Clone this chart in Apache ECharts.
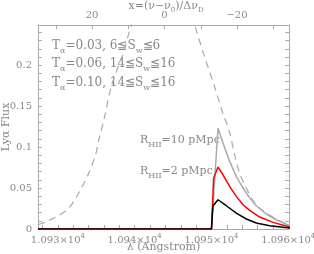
<!DOCTYPE html>
<html><head><meta charset="utf-8">
<script src="https://cdn.jsdelivr.net/npm/echarts@6/dist/echarts.min.js"></script>
<style>html,body{margin:0;padding:0;background:#fff}#c{width:314px;height:254px}</style>
</head><body><div id="c"></div>
<script>
// Dashed (intrinsic) profile, wavelength in Angstrom, flux
const dashedLambda = [10927.40, 10928.38, 10929.70, 10931.21, 10932.07, 10932.94, 10934.02, 10934.90, 10935.33, 10936.07, 10936.94, 10938.42, 10939.55, 10941.61, 10943.70, 10945.78, 10947.80, 10949.11, 10950.40, 10951.49, 10952.28, 10953.02, 10953.67, 10954.65, 10955.50, 10956.53, 10957.97, 10959.14, 10960.10];
const dashedFlux   = [0.0052, 0.0085, 0.0146, 0.0235, 0.0337, 0.0479, 0.0683, 0.0906, 0.1089, 0.137, 0.174, 0.2126, 0.249, 0.31, 0.33, 0.31, 0.249, 0.210, 0.174, 0.141, 0.121, 0.0906, 0.0683, 0.0479, 0.0337, 0.0235, 0.0146, 0.0085, 0.0055];

// R_HII = 10 pMpc (gray)
const grayLambda = [10927.4, 10950.0, 10950.85, 10951.5, 10952.37, 10953.24, 10954.11, 10954.98, 10955.84, 10957.15, 10958.45, 10960.2];
const grayFlux   = [0, 0, 0.123, 0.105, 0.0825, 0.064, 0.050, 0.038, 0.0284, 0.0183, 0.0113, 0.004];
// R_HII = 2 pMpc (red)
const redLambda = [10927.4, 10950.0, 10950.28, 10950.85, 10951.5, 10952.37, 10953.24, 10954.11, 10954.98, 10956.28, 10958.02, 10960.2];
const redFlux   = [0, 0, 0.062, 0.0756, 0.0662, 0.052, 0.0398, 0.0296, 0.0227, 0.0146, 0.0081, 0.0024];
// black
const blackLambda = [10927.4, 10950.0, 10950.19, 10950.85, 10951.93, 10953.24, 10954.54, 10955.84, 10957.58, 10960.2];
const blackFlux   = [0, 0, 0.028, 0.0357, 0.0284, 0.0195, 0.0122, 0.0073, 0.004, 0.0012];

const bottomTickLabels = [10930, 10940, 10950, 10960];
const bottomTicks = [10928,10930,10932,10934,10936,10938,10940,10942,10944,10946,10948,10950,10952,10954,10956,10958,10960];
const topTickLabels = [20, 0, -20];
const topTicks = [30, 20, 10, 0, -10, -20, -30];
const yTickLabels = [0, 0.05, 0.1, 0.15, 0.2];
const yTicks = [0,0.01,0.02,0.03,0.04,0.05,0.06,0.07,0.08,0.09,0.1,0.11,0.12,0.13,0.14,0.15,0.16,0.17,0.18,0.19,0.2,0.21,0.22,0.23,0.24];

const FONT = 'DejaVu Serif';
const TXT = '#888888';
const AX = '#aaaaaa';

const zip = (a, b) => a.map((v, i) => [v, b[i]]);

const chart = echarts.init(document.getElementById('c'), null, {renderer: 'canvas'});

const richT = {
  m: {fontFamily: FONT, fontSize: 12, color: TXT},
  s: {fontFamily: FONT, fontSize: 8, color: TXT, padding: [9, 0, 0, 0]}
};
const richR = {
  m: {fontFamily: FONT, fontSize: 11, color: TXT},
  s: {fontFamily: FONT, fontSize: 8, color: TXT, padding: [9, 0, 0, 0]}
};

const annText = (x, y, text, rich) => ({
  type: 'text', x: x, y: y,
  style: {text: text, rich: rich, fill: TXT, verticalAlign: 'middle', align: 'left', font: '11px ' + FONT}
});

chart.setOption({
  animation: false,
  grid: {left: 38, right: 25, top: 25, bottom: 25, containLabel: false, outerBoundsMode: 'none'},
  xAxis: [{
    type: 'value', position: 'bottom', min: 10927.4, max: 10960.1,
    axisLine: {show: true, onZero: false, lineStyle: {color: AX}},
    axisTick: {show: true, inside: true, length: 4, customValues: bottomTicks, lineStyle: {color: AX}},
    axisLabel: {customValues: bottomTickLabels, margin: 4, color: TXT,
      formatter: v => '{m|' + (v / 1e4).toFixed(3) + '×10}{p|4}',
      rich: {m: {fontFamily: FONT, fontSize: 10, color: TXT}, p: {fontFamily: FONT, fontSize: 7, color: TXT, padding: [0, 0, 8, 0]}}},
    splitLine: {show: false},
    name: 'λ (Angstrom)', nameLocation: 'middle', nameGap: 13, nameMoveOverlap: false,
    nameTextStyle: {fontFamily: FONT, fontSize: 11, color: TXT}
  }, {
    type: 'value', position: 'top', min: -34.34, max: 34.9, inverse: true,
    axisLine: {show: true, onZero: false, lineStyle: {color: AX}},
    axisTick: {show: true, inside: true, length: 4, customValues: topTicks, lineStyle: {color: AX}},
    axisLabel: {customValues: topTickLabels, margin: 5, color: TXT, fontFamily: FONT, fontSize: 10,
      formatter: v => v < 0 ? '−' + (-v) : String(v)},
    splitLine: {show: false}
  }],
  yAxis: [{
    type: 'value', position: 'left', min: 0, max: 0.249,
    axisLine: {show: true, onZero: false, lineStyle: {color: AX}},
    axisTick: {show: true, inside: true, length: 4, customValues: yTicks, lineStyle: {color: AX}},
    axisLabel: {customValues: yTickLabels, margin: 6, color: TXT, fontFamily: FONT, fontSize: 10,
      formatter: v => String(+v.toFixed(2))},
    splitLine: {show: false},
    name: 'Lyα Flux', nameLocation: 'middle', nameGap: 26, nameMoveOverlap: false,
    nameTextStyle: {fontFamily: FONT, fontSize: 11, color: TXT}
  }, {
    type: 'value', position: 'right', min: 0, max: 0.249,
    axisLine: {show: true, onZero: false, lineStyle: {color: AX}},
    axisTick: {show: true, inside: true, length: 4, customValues: yTicks, lineStyle: {color: AX}},
    axisLabel: {show: false},
    splitLine: {show: false}
  }],
  series: [
    {type: 'line', xAxisIndex: 0, yAxisIndex: 0, data: zip(dashedLambda, dashedFlux), showSymbol: false, smooth: 0.3,
     lineStyle: {color: '#aaaaaa', width: 1.2, type: [7, 5]}, clip: true},
    {type: 'line', xAxisIndex: 0, yAxisIndex: 0, data: zip(grayLambda, grayFlux), showSymbol: false,
     lineStyle: {color: '#aaaaaa', width: 1.5}, clip: true},
    {type: 'line', xAxisIndex: 0, yAxisIndex: 0, data: zip(redLambda, redFlux), showSymbol: false,
     lineStyle: {color: '#ff0000', width: 1.5}, clip: true},
    {type: 'line', xAxisIndex: 0, yAxisIndex: 0, data: zip(blackLambda, blackFlux), showSymbol: false,
     lineStyle: {color: '#000000', width: 1.5}, clip: true}
  ],
  graphic: [
    {type: 'text', x: 166, y: 6, style: {
      text: '{m|x=(ν−ν}{s|0}{m|)/Δν}{s|D}', align: 'center', verticalAlign: 'middle', fill: TXT,
      rich: {m: {fontFamily: FONT, fontSize: 11, color: TXT}, s: {fontFamily: FONT, fontSize: 7, color: TXT, padding: [8, 0, 0, 0]}}}},
    annText(52, 46, '{m|T}{s|α}{m|=0.03, 6≦S}{s|w}{m|≦6}', richT),
    annText(52, 64, '{m|T}{s|α}{m|=0.06, 14≦S}{s|w}{m|≦16}', richT),
    annText(52, 83, '{m|T}{s|α}{m|=0.10, 14≦S}{s|w}{m|≦16}', richT),
    annText(140, 140, '{m|R}{s|HII}{m|=10 pMpc}', richR),
    annText(140, 171, '{m|R}{s|HII}{m|=2 pMpc}', richR)
  ]
});
</script>
</body></html>
